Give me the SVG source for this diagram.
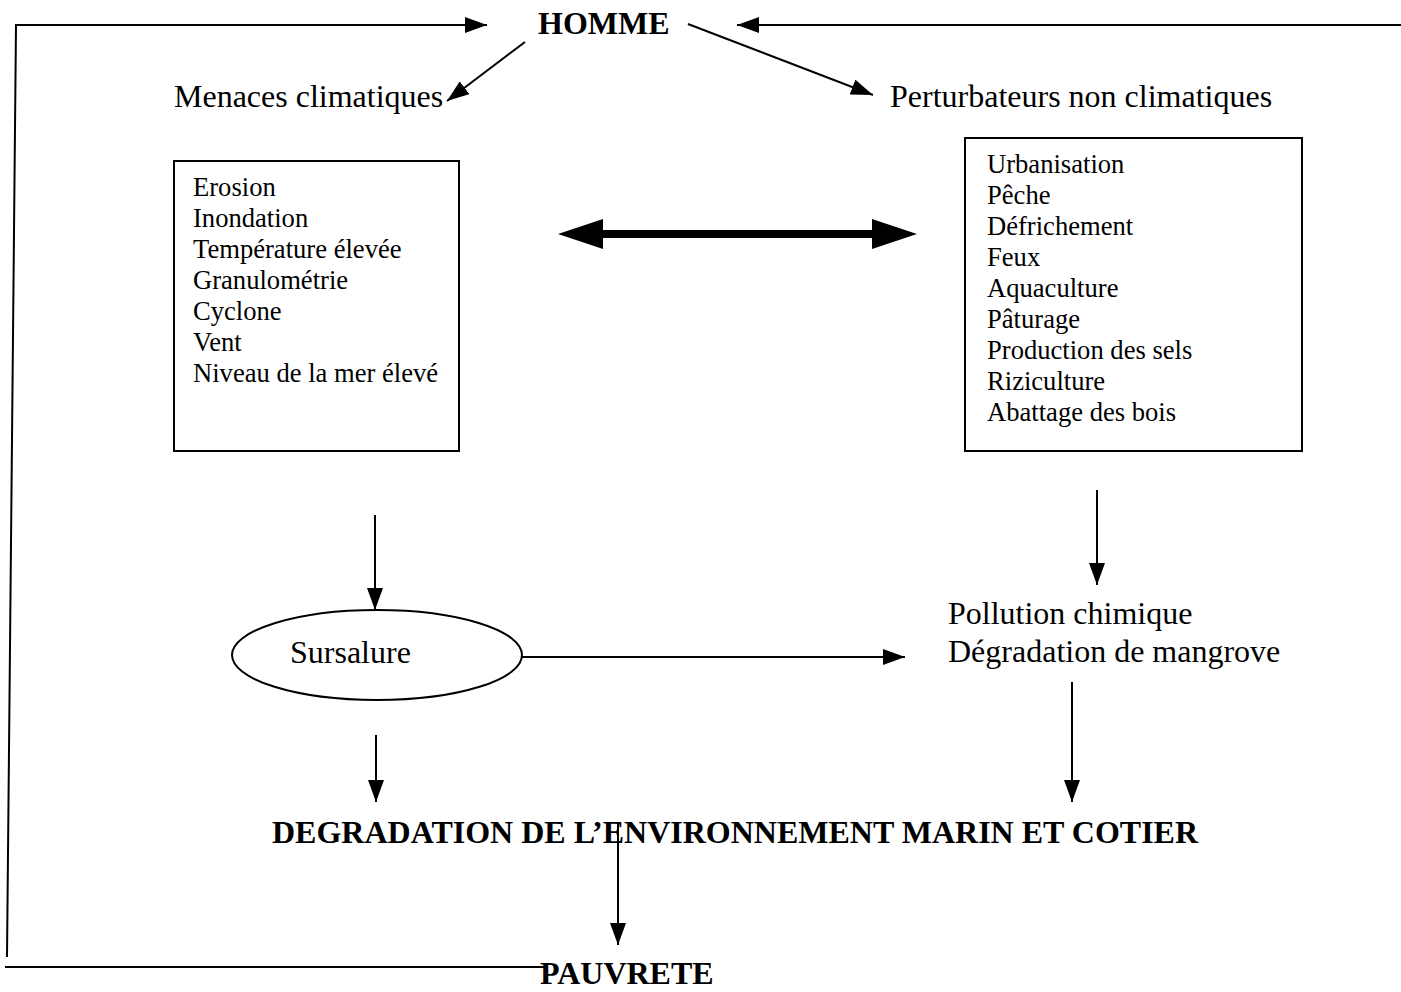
<svg xmlns="http://www.w3.org/2000/svg" width="1401" height="992" viewBox="0 0 1401 992">
<style>
.t{font-family:"Liberation Serif","Times New Roman",serif;fill:#000}
.lbl{font-size:32px}
.box{font-size:26.6px}
.b{font-size:32px;font-weight:bold}
.ln{stroke:#000;stroke-width:2;fill:none}
.shape{fill:#fff;stroke:#000;stroke-width:2}
</style>
<defs>
<marker id="ah2" viewBox="0 0 20 14" refX="20" refY="7" markerWidth="20" markerHeight="14" markerUnits="userSpaceOnUse" orient="auto">
<path d="M0,0 L20,7 L0,14 z" fill="#000"/>
</marker>
<marker id="ah3" viewBox="0 0 22 16" refX="22" refY="8" markerWidth="22" markerHeight="16" markerUnits="userSpaceOnUse" orient="auto">
<path d="M0,0 L22,8 L0,16 z" fill="#000"/>
</marker>
</defs>
<rect width="1401" height="992" fill="#fff"/>
<g id="connectors">
<polyline class="ln" points="7,957 16,25 487,25" marker-end="url(#ah3)"/>
<line class="ln" x1="1401" y1="25" x2="737" y2="25" marker-end="url(#ah3)"/>
<line class="ln" x1="5" y1="967" x2="545" y2="967"/>
<line class="ln" x1="525" y1="42" x2="447" y2="101" marker-end="url(#ah3)"/>
<line class="ln" x1="688" y1="24" x2="873" y2="95" marker-end="url(#ah3)"/>
<line class="ln" x1="375" y1="515" x2="375" y2="610" marker-end="url(#ah3)"/>
<line class="ln" x1="522" y1="657" x2="905" y2="657" marker-end="url(#ah3)"/>
<line class="ln" x1="1097" y1="490" x2="1097" y2="585" marker-end="url(#ah3)"/>
<line class="ln" x1="1072" y1="682" x2="1072" y2="802" marker-end="url(#ah3)"/>
<line class="ln" x1="376" y1="735" x2="376" y2="802" marker-end="url(#ah3)"/>
<line class="ln" x1="618" y1="822" x2="618" y2="945" marker-end="url(#ah3)"/>
<path d="M558,234 L603,219 L603,230 L872,230 L872,219 L917,234 L872,249 L872,238 L603,238 L603,249 Z" fill="#000"/>
</g>
<g id="homme"><text class="t b" x="538" y="34">HOMME</text></g>
<g id="menaces"><text class="t lbl" x="174" y="107">Menaces climatiques</text></g>
<g id="perturbateurs"><text class="t lbl" x="890" y="107">Perturbateurs non climatiques</text></g>
<g id="box-climat">
<rect class="shape" x="174" y="161" width="285" height="290"/>
<text class="t box" x="193" y="196">Erosion</text>
<text class="t box" x="193" y="227">Inondation</text>
<text class="t box" x="193" y="258">Température élevée</text>
<text class="t box" x="193" y="289">Granulométrie</text>
<text class="t box" x="193" y="320">Cyclone</text>
<text class="t box" x="193" y="351">Vent</text>
<text class="t box" x="193" y="382">Niveau de la mer élevé</text>
</g>
<g id="box-nonclimat">
<rect class="shape" x="965" y="138" width="337" height="313"/>
<text class="t box" x="987" y="173">Urbanisation</text>
<text class="t box" x="987" y="204">Pêche</text>
<text class="t box" x="987" y="235">Défrichement</text>
<text class="t box" x="987" y="266">Feux</text>
<text class="t box" x="987" y="297">Aquaculture</text>
<text class="t box" x="987" y="328">Pâturage</text>
<text class="t box" x="987" y="359">Production des sels</text>
<text class="t box" x="987" y="390">Riziculture</text>
<text class="t box" x="987" y="421">Abattage des bois</text>
</g>
<g id="sursalure">
<ellipse class="shape" cx="377" cy="655" rx="145" ry="45"/>
<text class="t lbl" x="290" y="663">Sursalure</text>
</g>
<g id="pollution">
<text class="t lbl" x="948" y="624">Pollution chimique</text>
<text class="t lbl" x="948" y="662">Dégradation de mangrove</text>
</g>
<g id="degradation"><text class="t b" x="272" y="843">DEGRADATION DE L’ENVIRONNEMENT MARIN ET COTIER</text></g>
<g id="pauvrete"><text class="t b" x="540" y="984">PAUVRETE</text></g>
</svg>
